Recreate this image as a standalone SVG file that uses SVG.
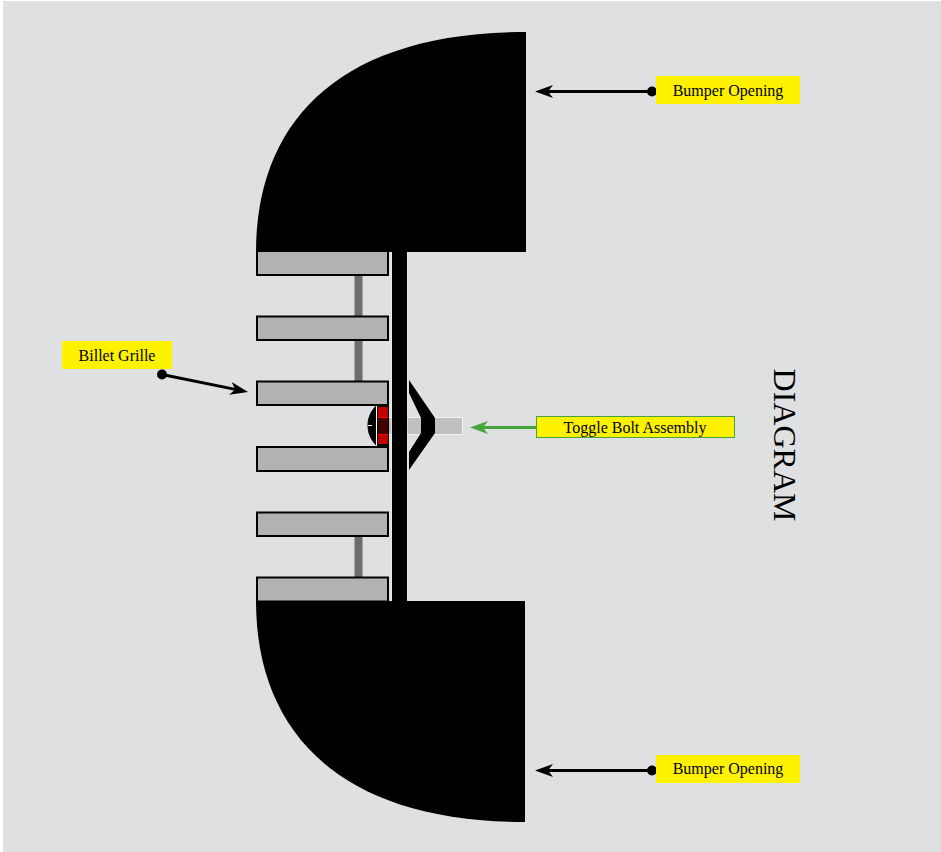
<svg xmlns="http://www.w3.org/2000/svg" width="941" height="852" viewBox="0 0 941 852">
<style>
.lbl{fill:#fff200}
text{font-family:"Liberation Serif","Times New Roman",serif;font-size:16px;fill:#000;text-anchor:middle}
.bar{fill:#b2b2b2;stroke:#000;stroke-width:2}
.post{fill:#6d6d6d}
.k{stroke:#000;stroke-width:3;fill:none}
</style>
<defs>
<marker id="ak" markerUnits="userSpaceOnUse" markerWidth="20" markerHeight="14" refX="5" refY="7" orient="auto"><path d="M0 0.500L18 7L0 13.500L5 7Z" fill="#000"/></marker>
<marker id="ag" markerUnits="userSpaceOnUse" markerWidth="20" markerHeight="14" refX="5" refY="7" orient="auto"><path d="M0 0.500L18 7L0 13.500L5 7Z" fill="#46a53a"/></marker>
</defs>
<rect width="941" height="852" fill="#fff"/>
<rect x="3" y="1" width="938" height="851" fill="#dfe0e2"/>
<g id="bumper-top"><path d="M526 32V252H256C256 125 335 32 526 32Z" fill="#000"/></g>
<g id="bumper-bottom"><path d="M525 822V601H256C256 728 335 822 525 822Z" fill="#000"/></g>
<g id="grille">
<rect class="post" x="354.500" y="275" width="8" height="42"/>
<rect class="post" x="354.500" y="340" width="8" height="42"/>
<rect class="post" x="354.500" y="536" width="8" height="42"/>
<rect class="bar" x="257" y="251" width="131" height="24"/>
<rect class="bar" x="257" y="316.500" width="131" height="23.500"/>
<rect class="bar" x="257" y="381.500" width="131" height="23.500"/>
<rect class="bar" x="257" y="447" width="131" height="24"/>
<rect class="bar" x="257" y="512.500" width="131" height="23.500"/>
<rect class="bar" x="257" y="577.500" width="131" height="24"/>
</g>
<g id="toggle-bolt">
<rect x="387.500" y="417.500" width="75" height="17" fill="#c0c0c0" stroke="#f2f2f2"/>
<path d="M377 405C370 412 368 419 368 425C368 432 370 439 377 446Z" fill="#000" stroke="#000"/>
<path d="M376.500 406V446" stroke="#fff" stroke-width="1" fill="none"/>
<path d="M368 425.500H372" stroke="#fff" stroke-width="1" fill="none"/>
<rect x="377" y="405" width="12" height="42" fill="#000"/>
<rect x="378" y="407" width="10" height="37" fill="#c00000"/>
<rect x="378" y="418" width="10" height="16" fill="#400000"/>
<path d="M378 417.500H388M378 434.500H388" stroke="#ff0000" fill="none"/>
<path d="M409 380L435 418V433L409 470V452L421 433V418L409 393Z" fill="#000"/>
</g>
<g id="plate"><rect x="392" y="252" width="15" height="349" fill="#000"/><path d="M391.500 253V600M407.500 253V600" stroke="#eeeeee" stroke-opacity="0.6" fill="none"/></g>
<g id="connectors">
<path class="k" d="M652 91.500H548" marker-end="url(#ak)"/>
<circle cx="652" cy="91.500" r="5"/>
<path class="k" d="M652 770.500H548" marker-end="url(#ak)"/>
<circle cx="652" cy="770.500" r="5"/>
<path class="k" d="M162 374.500L235.300 389.400" marker-end="url(#ak)"/>
<circle cx="162" cy="374.500" r="5"/>
<path d="M537 427.500H483" stroke="#46a53a" stroke-width="3" fill="none" marker-end="url(#ag)"/>
</g>
<g id="label-bumper-top"><rect class="lbl" x="656" y="76" width="144" height="28"/><text x="728" y="96">Bumper Opening</text></g>
<g id="label-bumper-bottom"><rect class="lbl" x="656" y="755" width="144" height="28"/><text x="728" y="774">Bumper Opening</text></g>
<g id="label-grille"><rect class="lbl" x="62" y="341" width="110" height="28"/><text x="117" y="361">Billet Grille</text></g>
<g id="label-toggle"><rect class="lbl" x="536.500" y="416.500" width="198" height="21" stroke="#46a53a"/><text x="635" y="433">Toggle Bolt Assembly</text></g>
<g id="title"><text transform="translate(773.500 445) rotate(90)" style="font-size:32px">DIAGRAM</text></g>
</svg>
